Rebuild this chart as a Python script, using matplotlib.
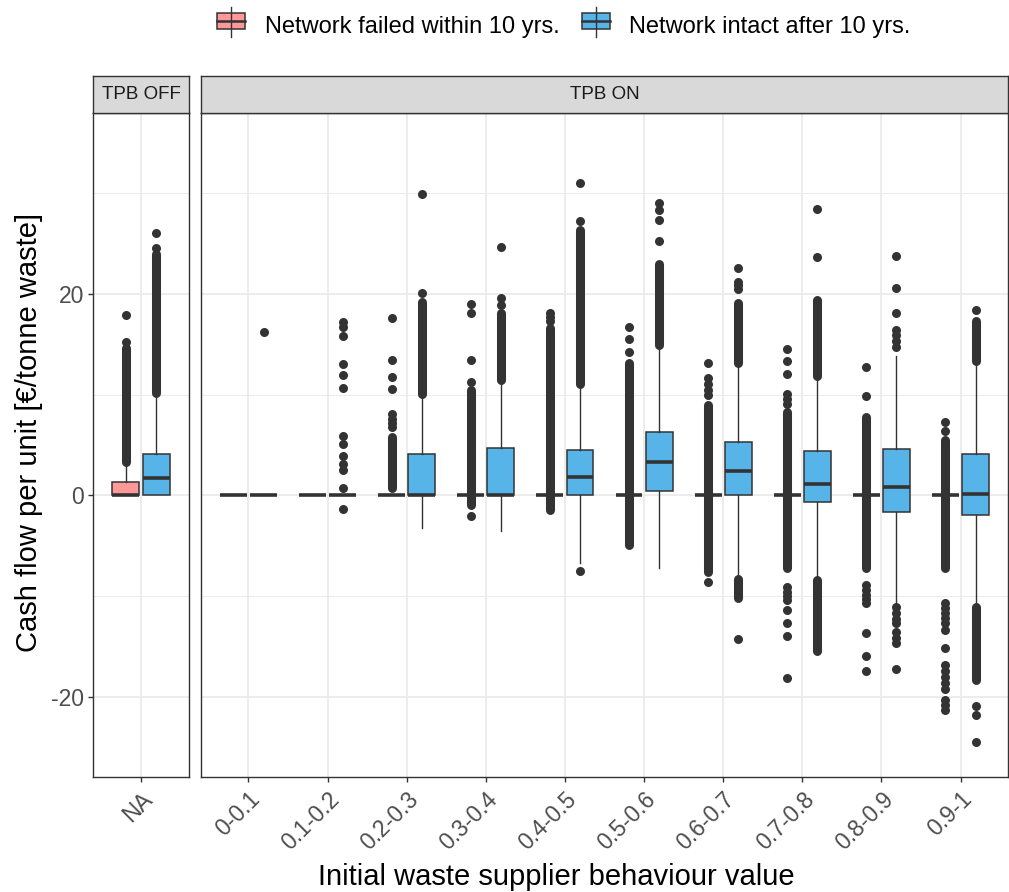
import matplotlib
matplotlib.use('Agg')
import matplotlib.pyplot as plt
from matplotlib.patches import Rectangle

plt.rcParams['font.family'] = ['Liberation Sans', 'DejaVu Sans']

W, H = 1009, 892

categories = ['NA', '0-0.1', '0.1-0.2', '0.2-0.3', '0.3-0.4', '0.4-0.5',
              '0.5-0.6', '0.6-0.7', '0.7-0.8', '0.8-0.9', '0.9-1']
category_panel = ['TPB OFF'] + ['TPB ON'] * 10
series = ['Network failed within 10 yrs.', 'Network intact after 10 yrs.']
series_colors = ['#FF9999', '#56B4E9']

# box statistics, one value per category
failed_q1 = [0, 0, 0, 0, 0, 0, 0, 0, 0, 0, 0]
failed_med = [0, 0, 0, 0, 0, 0, 0, 0, 0, 0, 0]
failed_q3 = [1.35, 0, 0, 0, 0, 0, 0, 0, 0, 0, 0]
failed_lo = [0, 0, 0, 0, 0, 0, 0, 0, 0, 0, 0]
failed_hi = [3.2, 0, 0, 0, 0, 0, 0, 0, 0, 0, 0]

intact_q1 = [0, 0, 0, 0, 0, 0, 0.45, 0, -0.7, -1.7, -1.95]
intact_med = [1.7, 0, 0, 0, 0.05, 1.8, 3.35, 2.45, 1.1, 0.8, 0.13]
intact_q3 = [4.1, 0, 0, 4.1, 4.7, 4.5, 6.3, 5.25, 4.4, 4.55, 4.15]
intact_lo = [0, 0, 0, -3.2, -3.55, -6.75, -7.2, -8.1, -8.1, -10.8, -11.05]
intact_hi = [10.1, 0, 0, 9.96, 11.45, 10.95, 14.75, 13.1, 11.6, 13.8, 13.3]

# single outliers
failed_points = [
    [15.25, 17.9],
    [],
    [],
    [17.6, 13.4, 11.7, 10.6, 8.1, 7.6, 7.2, 6.8],
    [19.0, 18.1, 13.4, 11.3, -2.05],
    [18.1, 17.7, 17.3],
    [16.7, 15.5, 14.2],
    [13.1, 11.6, 11.1, 10.5, 10.0, -8.6],
    [14.5, 13.3, 12.0, 10.1, 9.6, 9.1, -9.1, -9.6, -10.0, -10.4, -11.4, -12.7, -14.0, -18.1],
    [12.7, 9.9, -8.9, -9.4, -9.9, -10.3, -10.7, -13.7, -16.0, -17.45],
    [7.25, 6.4, -10.7, -11.2, -11.7, -12.2, -12.7, -13.4, -15.2, -16.85, -17.4,
     -18.0, -18.6, -19.2, -20.3, -20.8, -21.3],
]
intact_points = [
    [24.6, 26.0],
    [16.2],
    [17.2, 16.7, 15.85, 13.0, 11.9, 10.7, 5.9, 5.1, 3.9, 3.1, 2.5, 0.75, -1.4],
    [20.1, 29.95],
    [18.9, 19.6, 24.7],
    [27.2, 31.05, -7.5],
    [25.3, 27.3, 28.3, 29.0],
    [20.5, 20.9, 21.2, 22.6, -14.3],
    [23.7, 28.4],
    [14.75, 15.3, 15.9, 16.4, 18.1, 20.6, 23.8, -11.1, -11.7, -12.3, -12.7,
     -13.6, -14.2, -14.7, -17.2],
    [18.4, -20.9, -21.8, -24.5],
]

# dense runs of outliers (low, high)
failed_bands = [
    [(3.3, 14.6)],
    [],
    [],
    [(0.7, 5.8)],
    [(-0.95, 10.5)],
    [(-1.45, 16.6)],
    [(-4.9, 13.1)],
    [(-7.6, 9.0)],
    [(-7.25, 8.3)],
    [(-7.25, 7.8)],
    [(-7.25, 5.5)],
]
intact_bands = [
    [(10.2, 24.0)],
    [],
    [],
    [(10.1, 19.2)],
    [(11.45, 18.1)],
    [(11.1, 26.3)],
    [(14.9, 23.0)],
    [(13.1, 19.1), (-10.2, -8.3)],
    [(11.8, 19.4), (-15.5, -8.4)],
    [],
    [(13.3, 17.3), (-18.3, -11.05)],
]

y_ticks = [-20, 0, 20]
y_minor = [-10, 10, 30]
y_range = (-27.97, 37.96)

INK = '#333333'
GRID = '#EBEBEB'
DOT = 6.5


def px_rect(x0, y0, x1, y1):
    return [x0 / W, 1 - y1 / H, (x1 - x0) / W, (y1 - y0) / H]


def draw_box(ax, pos, color, q1, med, q3, lo, hi, points, bands):
    stats = [{'med': med, 'q1': q1, 'q3': q3, 'whislo': lo, 'whishi': hi, 'fliers': []}]
    ax.bxp(stats, positions=[pos], widths=0.34, patch_artist=True,
           showfliers=False, showcaps=False,
           boxprops=dict(facecolor=color, edgecolor=INK, linewidth=1.1),
           medianprops=dict(color=INK, linewidth=2.6, solid_capstyle='butt'),
           whiskerprops=dict(color=INK, linewidth=1.0), manage_ticks=False)
    for b_lo, b_hi in bands:
        ax.plot([pos, pos], [b_lo, b_hi], color=INK, lw=DOT,
                solid_capstyle='round', zorder=4)
    if points:
        ax.plot([pos] * len(points), points, 'o', ms=DOT, color=INK, mec='none', zorder=4)


def style_panel(ax, labels, show_y):
    ax.set_facecolor('white')
    ax.set_ylim(*y_range)
    ax.set_xlim(-0.6, len(labels) - 0.4)
    ax.set_xticks(range(len(labels)))
    ax.set_xticklabels(labels, rotation=45, ha='right', va='top',
                       rotation_mode='anchor', fontsize=16.5, color='#4D4D4D')
    ax.set_yticks(y_ticks)
    ax.set_yticks(y_minor, minor=True)
    ax.grid(which='major', color=GRID, lw=1.3, zorder=0)
    ax.grid(which='minor', axis='y', color=GRID, lw=0.7, zorder=0)
    ax.set_axisbelow(True)
    ax.tick_params(axis='x', length=3.5, width=1, color=INK, pad=4)
    ax.tick_params(which='minor', length=0)
    if show_y:
        ax.set_yticklabels([str(t) for t in y_ticks], fontsize=16.5, color='#4D4D4D')
        ax.tick_params(axis='y', length=3.5, width=1, color=INK, pad=3)
    else:
        ax.tick_params(axis='y', left=False, labelleft=False)
    for sp in ax.spines.values():
        sp.set_color(INK)
        sp.set_linewidth(1.0)


def strip(fig, rect, label):
    s = fig.add_axes(rect)
    s.set_facecolor('#D9D9D9')
    s.set_xticks([])
    s.set_yticks([])
    for sp in s.spines.values():
        sp.set_color(INK)
        sp.set_linewidth(1.0)
    s.text(0.5, 0.5, label, ha='center', va='center', fontsize=13.5,
           color='#1A1A1A', transform=s.transAxes)


fig = plt.figure(figsize=(W / 100, H / 100), dpi=100)
fig.patch.set_facecolor('white')

ax_off = fig.add_axes(px_rect(93, 113, 189, 777))
ax_on = fig.add_axes(px_rect(201, 113, 1008, 777))
strip(fig, px_rect(93, 76, 189, 113), 'TPB OFF')
strip(fig, px_rect(201, 76, 1008, 113), 'TPB ON')

off_labels = [c for c, p in zip(categories, category_panel) if p == 'TPB OFF']
on_labels = [c for c, p in zip(categories, category_panel) if p == 'TPB ON']

off_i = 0
on_i = 0
for i, panel in enumerate(category_panel):
    if panel == 'TPB OFF':
        ax, pos = ax_off, off_i
        off_i += 1
    else:
        ax, pos = ax_on, on_i
        on_i += 1
    draw_box(ax, pos - 0.19, series_colors[0], failed_q1[i], failed_med[i], failed_q3[i],
             failed_lo[i], failed_hi[i], failed_points[i], failed_bands[i])
    draw_box(ax, pos + 0.19, series_colors[1], intact_q1[i], intact_med[i], intact_q3[i],
             intact_lo[i], intact_hi[i], intact_points[i], intact_bands[i])

style_panel(ax_off, off_labels, True)
style_panel(ax_on, on_labels, False)

# axis titles
fig.text(556 / W, 1 - 885 / H, 'Initial waste supplier behaviour value',
         ha='center', va='baseline', fontsize=21, color='black')
fig.text(29 / W, 1 - 432 / H, 'Cash flow per unit [€/tonne waste]',
         ha='center', va='center', rotation=90, fontsize=21, color='black')

# legend drawn in pixel space
leg = fig.add_axes([0, 0, 1, 1], facecolor='none')
leg.set_xlim(0, W)
leg.set_ylim(H, 0)
leg.axis('off')
for name, color, kx, tx in zip(series, series_colors, [217, 582], [265, 629]):
    leg.plot([kx + 14, kx + 14], [6.7, 37.3], color=INK, lw=1.0)
    leg.add_patch(Rectangle((kx, 13.3), 28, 15.7, facecolor=color, edgecolor=INK, lw=1.1))
    leg.plot([kx, kx + 28], [21, 21], color=INK, lw=1.8)
    leg.text(tx, 33, name, ha='left', va='baseline', fontsize=17, color='black')

fig.savefig('out.png', dpi=100)
